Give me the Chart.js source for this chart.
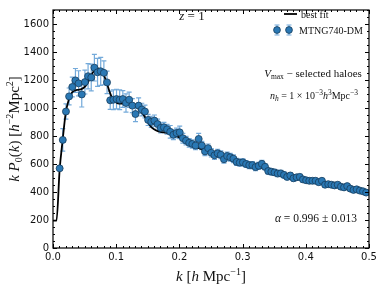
<!DOCTYPE html>
<html>
<head>
<meta charset="utf-8">
<script src="https://cdn.jsdelivr.net/npm/chart.js@4.4.1/dist/chart.umd.min.js"></script>
<style>
    html, body { margin: 0; padding: 0; background: #fff; }
    canvas { display: block; }
</style>
</head>
<body>
<canvas id="chart" width="382" height="287"></canvas>
<script>
// 数据：测量点 (k, k P0(k), 误差)
const kVals = [
    0.0105, 0.0155, 0.0205, 0.0255, 0.0305, 0.0355, 0.0405, 0.0455, 0.0505, 0.0555,
    0.0605, 0.0655, 0.0705, 0.0755, 0.0805, 0.0855, 0.0905, 0.0955, 0.1005, 0.1055,
    0.1105, 0.1155, 0.1205, 0.1255, 0.1305, 0.1355, 0.1405, 0.1455, 0.1505, 0.1555,
    0.1605, 0.1655, 0.1705, 0.1755, 0.1805, 0.1855, 0.1905, 0.1955, 0.2005, 0.2055,
    0.2105, 0.2155, 0.2205, 0.2255, 0.2305, 0.2355, 0.2405, 0.2455, 0.2505, 0.2555,
    0.2605, 0.2655, 0.2705, 0.2755, 0.2805, 0.2855, 0.2905, 0.2955, 0.3005, 0.3055,
    0.3105, 0.3155, 0.3205, 0.3255, 0.3305, 0.3355, 0.3405, 0.3455, 0.3505, 0.3555,
    0.3605, 0.3655, 0.3705, 0.3755, 0.3805, 0.3855, 0.3905, 0.3955, 0.4005, 0.4055,
    0.4105, 0.4155, 0.4205, 0.4255, 0.4305, 0.4355, 0.4405, 0.4455, 0.4505, 0.4555,
    0.4605, 0.4655, 0.4705, 0.4755, 0.4805, 0.4855, 0.4905, 0.4955
];
const pkVals = [
    569, 772, 975, 1083, 1150, 1197, 1176, 1097, 1185, 1227,
    1218, 1288, 1255, 1262, 1251, 1183, 1055, 1059, 1064, 1059,
    1064, 1036, 1059, 1017, 957, 1017, 989, 975, 915, 901,
    910, 885, 858, 862, 848, 830, 809, 821, 826, 784,
    767, 751, 743, 732, 779, 732, 690, 713, 680, 662,
    676, 666, 634, 657, 648, 638, 615, 610, 612, 600,
    592, 592, 578, 587, 601, 580, 550, 545, 540, 532,
    533, 522, 508, 518, 498, 505, 508, 490, 484, 480,
    480, 480, 470, 480, 452, 456, 452, 447, 452, 438,
    433, 442, 424, 415, 419, 410, 405, 396
];
const pkErr = [
    15, 80, 55, 60, 70, 85, 90, 90, 85, 90,
    95, 95, 100, 100, 85, 80, 65, 70, 70, 70,
    60, 65, 55, 50, 55, 55, 45, 45, 40, 40,
    40, 35, 35, 35, 35, 45, 35, 35, 45, 35,
    30, 30, 30, 30, 40, 30, 30, 30, 30, 30,
    28, 28, 28, 28, 28, 28, 25, 25, 25, 25,
    25, 25, 25, 25, 25, 22, 22, 22, 22, 22,
    22, 22, 20, 20, 20, 20, 20, 20, 18, 18,
    18, 18, 18, 18, 18, 18, 18, 18, 17, 17,
    17, 17, 17, 17, 17, 16, 16, 16
];

// 最佳拟合曲线
const fitK = [
    0.0, 0.0055, 0.0105, 0.015, 0.02, 0.025, 0.03, 0.035, 0.04, 0.045,
    0.05, 0.055, 0.06, 0.065, 0.07, 0.075, 0.08, 0.085, 0.09, 0.095,
    0.1, 0.105, 0.11, 0.115, 0.12, 0.125, 0.13, 0.135, 0.14, 0.145,
    0.15, 0.155, 0.16, 0.165, 0.17, 0.175, 0.18, 0.185, 0.19, 0.2,
    0.21, 0.22, 0.23, 0.24, 0.25, 0.26, 0.27, 0.28, 0.29, 0.3,
    0.31, 0.32, 0.33, 0.34, 0.35, 0.36, 0.38, 0.4, 0.42, 0.44,
    0.46, 0.48, 0.5
];
const fitVals = [
    195, 195, 560, 760, 960, 1060, 1110, 1125, 1130, 1135,
    1150, 1180, 1230, 1265, 1283, 1275, 1240, 1180, 1110, 1060,
    1040, 1032, 1032, 1036, 1036, 1030, 1015, 995, 970, 940,
    900, 866, 848, 836, 830, 826, 823, 820, 812, 790,
    765, 742, 715, 697, 683, 668, 650, 638, 628, 612,
    596, 582, 572, 558, 540, 528, 505, 482, 465, 448,
    432, 415, 398
];

// 刻度
const xTicks = [0, 0.1, 0.2, 0.3, 0.4, 0.5];
const yTicks = [0, 200, 400, 600, 800, 1000, 1200, 1400, 1600];
const xMinorStep = 0.01;
const yMinorStep = 50;

const SERIF = '"Liberation Serif", "DejaVu Serif", serif';
const SANS = '"DejaVu Sans", sans-serif';

// 混合字体文本：parts = [[文字, 字体, 垂直偏移], ...]
function drawRich(ctx, parts, x, y, align) {
    let total = 0;
    parts.forEach(p => { ctx.font = p[1]; total += ctx.measureText(p[0]).width; });
    let cx = align === 'center' ? x - total / 2 : (align === 'right' ? x - total : x);
    ctx.textAlign = 'left';
    ctx.textBaseline = 'alphabetic';
    parts.forEach(p => {
        ctx.font = p[1];
        ctx.fillText(p[0], cx, y + (p[2] || 0));
        cx += ctx.measureText(p[0]).width;
    });
}

const it = s => `italic ${s}px ${SERIF}`;
const rm = s => `${s}px ${SERIF}`;

// 误差棒
const errorBarPlugin = {
    id: 'errorBars',
    beforeDatasetsDraw(chart) {
        const ctx = chart.ctx;
        const xs = chart.scales.x, ys = chart.scales.y;
        ctx.save();
        ctx.strokeStyle = '#74aada';
        ctx.lineWidth = 1.2;
        kVals.forEach((k, i) => {
            const px = xs.getPixelForValue(k);
            const top = ys.getPixelForValue(pkVals[i] + pkErr[i]);
            const bot = ys.getPixelForValue(pkVals[i] - pkErr[i]);
            ctx.beginPath();
            ctx.moveTo(px, top); ctx.lineTo(px, bot);
            ctx.moveTo(px - 2.5, top); ctx.lineTo(px + 2.5, top);
            ctx.moveTo(px - 2.5, bot); ctx.lineTo(px + 2.5, bot);
            ctx.stroke();
        });
        ctx.restore();
    }
};

// 边框、向内刻度、标注文字、图例
const decorPlugin = {
    id: 'decor',
    afterDraw(chart) {
        const ctx = chart.ctx;
        const a = chart.chartArea;
        const xs = chart.scales.x, ys = chart.scales.y;
        ctx.save();
        ctx.strokeStyle = '#000';
        ctx.lineWidth = 1.2;
        ctx.strokeRect(a.left, a.top, a.right - a.left, a.bottom - a.top);

        ctx.lineWidth = 1;
        ctx.beginPath();
        // x 方向刻度
        for (let v = 0; v <= 0.5 + 1e-9; v += xMinorStep) {
            const major = xTicks.some(t => Math.abs(t - v) < 1e-6);
            const len = major ? 4 : 2;
            const px = Math.round(xs.getPixelForValue(v)) + 0.5;
            ctx.moveTo(px, a.bottom); ctx.lineTo(px, a.bottom - len);
            ctx.moveTo(px, a.top); ctx.lineTo(px, a.top + len);
        }
        // y 方向刻度
        for (let v = 0; v <= 1700 + 1e-9; v += yMinorStep) {
            const major = yTicks.includes(v);
            const len = major ? 4 : 2;
            const py = Math.round(ys.getPixelForValue(v)) + 0.5;
            ctx.moveTo(a.left, py); ctx.lineTo(a.left + len, py);
            ctx.moveTo(a.right, py); ctx.lineTo(a.right - len, py);
        }
        ctx.stroke();

        ctx.fillStyle = '#111';
        // z = 1
        drawRich(ctx, [['z', it(13)], [' = 1', rm(13)]], 192, 20, 'center');

        // 图例
        ctx.strokeStyle = '#000';
        ctx.lineWidth = 1.8;
        ctx.beginPath();
        ctx.moveTo(284, 14); ctx.lineTo(297, 14);
        ctx.stroke();
        drawRich(ctx, [['best fit', rm(10)]], 301, 17.5, 'left');
        [277, 289].forEach(mx => {
            ctx.strokeStyle = '#74aada';
            ctx.lineWidth = 1.2;
            ctx.beginPath();
            ctx.moveTo(mx, 25); ctx.lineTo(mx, 35);
            ctx.moveTo(mx - 2.5, 25); ctx.lineTo(mx + 2.5, 25);
            ctx.moveTo(mx - 2.5, 35); ctx.lineTo(mx + 2.5, 35);
            ctx.stroke();
            ctx.beginPath();
            ctx.arc(mx, 30, 3.4, 0, Math.PI * 2);
            ctx.fillStyle = '#2a78b4';
            ctx.fill();
            ctx.strokeStyle = '#183d5d';
            ctx.lineWidth = 0.8;
            ctx.stroke();
        });
        ctx.fillStyle = '#111';
        drawRich(ctx, [['MTNG740-DM', rm(10)]], 299, 33.5, 'left');

        // 右侧说明
        drawRich(ctx, [['V', it(11)], ['max', rm(7.5), 2], [' − selected haloes', rm(11)]], 313, 77, 'center');
        drawRich(ctx, [['n', it(10)], ['h', it(7.5), 2], [' = 1 × 10', rm(10)], ['−3', rm(7.5), -4],
            ['h', it(10)], ['3', rm(7.5), -4], ['Mpc', rm(10)], ['−3', rm(7.5), -4]], 314, 99, 'center');
        drawRich(ctx, [['α', it(11.5)], [' = 0.996 ± 0.013', rm(11.5)]], 316, 222, 'center');

        // 坐标轴标题
        drawRich(ctx, [['k', it(15)], [' [', rm(15)], ['h', it(15)], [' Mpc', rm(15)], ['−1', rm(10), -6], [']', rm(15)]],
            (a.left + a.right) / 2, 281, 'center');
        ctx.translate(19, (a.top + a.bottom) / 2);
        ctx.rotate(-Math.PI / 2);
        drawRich(ctx, [['k', it(15)], [' P', it(15)], ['0', rm(10), 3], ['(', rm(15)], ['k', it(15)], [')', rm(15)],
            [' [', rm(15)], ['h', it(15)], ['−2', rm(10), -6], ['Mpc', rm(15)], ['2', rm(10), -6], [']', rm(15)]],
            0, 0, 'center');
        ctx.restore();
    }
};

const fitData = fitK.map((k, i) => ({ x: k, y: fitVals[i] }));
const pointData = kVals.map((k, i) => ({ x: k, y: pkVals[i] }));

new Chart(document.getElementById('chart').getContext('2d'), {
    type: 'scatter',
    data: {
        datasets: [
            {
                label: 'best fit',
                data: fitData,
                showLine: true,
                borderColor: '#000',
                borderWidth: 1.8,
                pointRadius: 0,
                cubicInterpolationMode: 'monotone',
                order: 2
            },
            {
                label: 'MTNG740-DM',
                data: pointData,
                pointRadius: 3.5,
                backgroundColor: '#2a78b4',
                borderColor: '#183d5d',
                borderWidth: 0.8,
                order: 1
            }
        ]
    },
    options: {
        responsive: false,
        devicePixelRatio: 1,
        animation: false,
        layout: { padding: { top: 5, right: 13, left: 0, bottom: 0 } },
        plugins: {
            legend: { display: false },
            tooltip: { enabled: false }
        },
        scales: {
            x: {
                type: 'linear',
                min: 0,
                max: 0.5,
                afterFit: s => { s.height = 39; },
                afterBuildTicks: s => { s.ticks = xTicks.map(v => ({ value: v })); },
                grid: { display: false, drawTicks: false },
                border: { display: false },
                ticks: {
                    padding: 3,
                    color: '#111',
                    font: { family: SANS, size: 10 },
                    callback: v => v.toFixed(1)
                }
            },
            y: {
                type: 'linear',
                min: 0,
                max: 1700,
                afterFit: s => { s.width = 53; },
                afterBuildTicks: s => { s.ticks = yTicks.map(v => ({ value: v })); },
                grid: { display: false, drawTicks: false },
                border: { display: false },
                ticks: {
                    padding: 4,
                    color: '#111',
                    font: { family: SANS, size: 10 },
                    callback: v => String(v)
                }
            }
        }
    },
    plugins: [errorBarPlugin, decorPlugin]
});
</script>
</body>
</html>
